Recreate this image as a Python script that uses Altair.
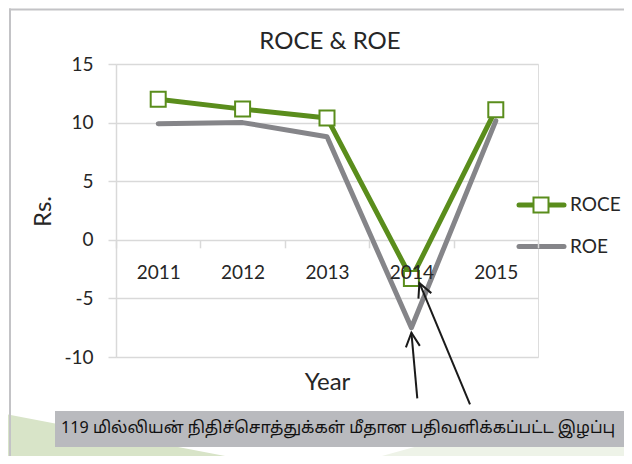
import altair as alt
import pandas as pd

# ---- data ----
years = ["2011", "2012", "2013", "2014", "2015"]
roce = [12.0, 11.15, 10.4, -3.3, 11.1]
roe = [9.9, 10.0, 8.8, -7.5, 10.15]
series_names = ["ROCE", "ROE"]
series_colors = ["#5A8D1C", "#858589"]
y_ticks = [-10, -5, 0, 5, 10, 15]
chart_title = "ROCE & ROE"
x_title = "Year"
y_title = "Rs."
note_text = "119 மில்லியன்  நிதிச்சொத்துக்கள் மீதான  பதிவளிக்கப்பட்ட  இழப்பு"

# ---- layout (pixels) ----
W, H = 422, 293          # plot area
PX0, PY0 = 116, 64       # plot origin on the page
FONT = "Lato"
TXT = "#262626"
GRID = "#D9D9D9"
FRAME = "#C3C3C6"


def px(x):  # page x -> plot-relative x
    return x - PX0


def py(y):  # page y -> plot-relative y
    return y - PY0


df = pd.DataFrame({
    "year": years * 2,
    "value": roce + roe,
    "series": ["ROCE"] * len(years) + ["ROE"] * len(years),
})
one = pd.DataFrame({"k": [0]})

x_enc = alt.X("year:N", sort=years,
              scale=alt.Scale(type="band", paddingInner=0, paddingOuter=0),
              axis=alt.Axis(
                  title=x_title, orient="bottom", offset=-(H - H * 15 / 25),
                  domain=False, ticks=True, tickBand="extent", tickSize=8,
                  tickColor=GRID, tickWidth=1.5, labelAngle=0,
                  labelFont=FONT, labelFontSize=19, labelColor=TXT,
                  labelBaseline="alphabetic", labelPadding=31,
                  titleFont=FONT, titleFontSize=24, titleFontWeight="normal",
                  titleColor=TXT, titleBaseline="alphabetic", titleY=150,
                  grid=False, zindex=1))
y_enc = alt.Y("value:Q",
              scale=alt.Scale(domain=[-10, 15], nice=False, zero=False),
              axis=alt.Axis(
                  title=y_title, values=y_ticks, grid=True, gridColor=GRID,
                  gridWidth=1.5, domain=True, domainColor=GRID, domainWidth=1.5,
                  ticks=True, tickColor=GRID, tickSize=8, tickWidth=1.5,
                  labelFont=FONT, labelFontSize=19, labelColor=TXT,
                  labelPadding=15,
                  labelExpr="replace(datum.label, '\u2212', '-')",
                  titleFont=FONT, titleFontSize=24, titleFontWeight="normal",
                  titleColor=TXT, titleAngle=270, titleBaseline="alphabetic",
                  titleAlign="center", titleX=px(50), titleY=py(211),
                  zindex=0))
color_scale = alt.Scale(domain=series_names, range=series_colors)

base = alt.Chart(df)

lines_roe = base.transform_filter(alt.datum.series == "ROE").mark_line(
    strokeWidth=5, strokeCap="round", strokeJoin="round").encode(
    x=x_enc, y=y_enc,
    color=alt.Color("series:N", scale=color_scale, legend=None))
lines_roce = base.transform_filter(alt.datum.series == "ROCE").mark_line(
    strokeWidth=5, strokeCap="round", strokeJoin="round").encode(
    x=alt.X("year:N", sort=years), y="value:Q",
    color=alt.Color("series:N", scale=color_scale, legend=None))
markers = base.transform_filter(alt.datum.series == "ROCE").mark_point(
    shape="square", size=225, filled=True, fill="white", strokeWidth=2,
    opacity=1).encode(
    x=alt.X("year:N", sort=years), y="value:Q",
    stroke=alt.Color("series:N", scale=color_scale, legend=None))

# ---- decorations ----
bg_a = pd.DataFrame({"x": [px(0), px(267)], "y": [py(413), py(464)],
                     "y2": [py(464), py(464)]})
bg_b = pd.DataFrame({"x": [px(353), px(447), px(632)],
                     "y": [py(464), py(438), py(430)],
                     "y2": [py(464), py(464), py(464)]})
deco_a = alt.Chart(bg_a).mark_area(color="#D8E4C8").encode(
    x=alt.X("x:Q", scale=None, axis=None),
    y=alt.Y("y:Q", scale=None, axis=None), y2="y2:Q")
deco_b = alt.Chart(bg_b).mark_area(color="#EEF3E8").encode(
    x=alt.X("x:Q", scale=None, axis=None),
    y=alt.Y("y:Q", scale=None, axis=None), y2="y2:Q")

frame_top = alt.Chart(one).mark_rule(color=FRAME, strokeWidth=2).encode(
    x=alt.value(px(9)), x2=alt.value(px(640)), y=alt.value(py(9.5)))
frame_left = alt.Chart(one).mark_rule(color=FRAME, strokeWidth=2).encode(
    x=alt.value(px(10)), y=alt.value(py(8.5)), y2=alt.value(py(470)))

title = alt.Chart(one).mark_text(
    text=chart_title, align="center", baseline="alphabetic", font=FONT,
    fontSize=24, fontWeight="normal", color=TXT).encode(
    x=alt.value(px(330)), y=alt.value(py(49)))

note_box = alt.Chart(one).mark_rect(color="#B9BABE").encode(
    x=alt.value(px(55)), x2=alt.value(px(628)),
    y=alt.value(py(411)), y2=alt.value(py(447)))
note = alt.Chart(one).mark_text(
    text=note_text, align="left", baseline="middle",
    font="Noto Sans Tamil, Lohit Tamil, Latha, Lato, sans-serif",
    fontSize=16.2, fontWeight="normal", color="#111111").encode(
    x=alt.value(px(61)), y=alt.value(py(428)))

# legend (manual, Excel style)
legend_layers = []
for name, ly in zip(series_names, [205, 246.5]):
    ld = pd.DataFrame({"series": [name]})
    lc = alt.Color("series:N", scale=color_scale, legend=None)
    legend_layers.append(alt.Chart(ld).mark_rule(strokeWidth=5, strokeCap="round").encode(
        x=alt.value(px(519)), x2=alt.value(px(564)), y=alt.value(py(ly)), color=lc))
    if name == "ROCE":
        legend_layers.append(alt.Chart(ld).mark_point(
            shape="square", size=225, filled=True, fill="white", strokeWidth=2,
            opacity=1).encode(x=alt.value(px(541)), y=alt.value(py(ly)),
                              stroke=lc))
    legend_layers.append(alt.Chart(ld).mark_text(
        align="left", baseline="middle", font=FONT, fontSize=19, color=TXT).encode(
        x=alt.value(px(570)), y=alt.value(py(ly)), text="series:N"))

# arrows pointing at the 2014 values
arrow_layers = []
arrow_specs = [("ROE", (301.3, 334.3), (0, 5), 354),
               ("ROCE", (354, 340.3), (8, 4.5), 337)]
for name, tail, off, ang in arrow_specs:
    ad = df[(df.series == name) & (df.year == "2014")]
    arrow_layers.append(alt.Chart(ad).mark_rule(
        color="#1A1A1A", strokeWidth=2, xOffset=off[0], yOffset=off[1]).encode(
        x=alt.X("year:N", sort=years), y="value:Q",
        x2=alt.value(tail[0]), y2=alt.value(tail[1])))
    arrow_layers.append(alt.Chart(ad).mark_point(
        shape="M-0.5,1 L0,0 L0.5,1", size=784, filled=False, stroke="#1A1A1A",
        strokeWidth=2, opacity=1, angle=ang, xOffset=off[0], yOffset=off[1]).encode(
        x=alt.X("year:N", sort=years), y="value:Q"))

chart = alt.layer(
    deco_a, deco_b, frame_top, frame_left, title, lines_roe, lines_roce, markers,
    *legend_layers, note_box, note, *arrow_layers,
).properties(
    width=W, height=H,
    padding={"left": PX0 - 8, "top": PY0 - 8, "right": 616 - (PX0 - 8) - W,
             "bottom": 448 - (PY0 - 8) - H},
    autosize=alt.AutoSizeParams(type="none"),
).configure_view(stroke=None).configure(background="white")

chart.save("out.html", embed_options={"renderer": "svg", "actions": False})
